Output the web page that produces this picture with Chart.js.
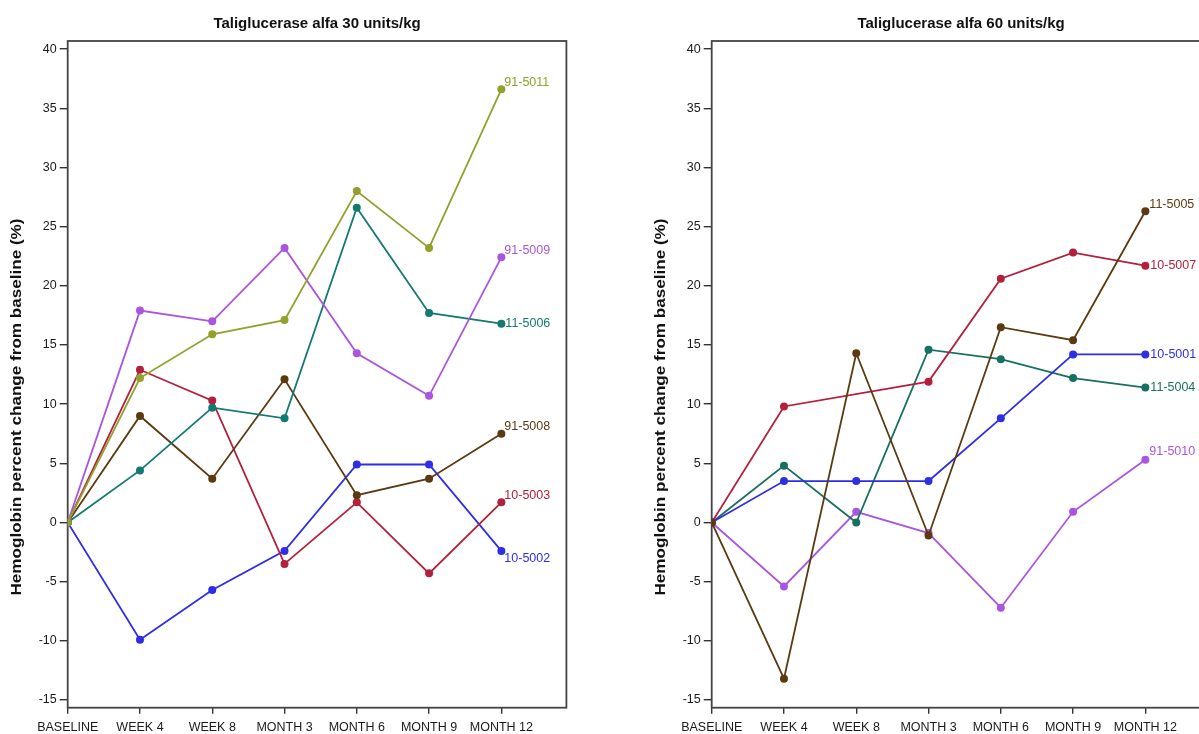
<!DOCTYPE html>
<html>
<head>
<meta charset="utf-8">
<script src="https://cdn.jsdelivr.net/npm/chart.js@4.4.1/dist/chart.umd.min.js"></script>
<style>
  html, body { margin: 0; padding: 0; background: #fff; overflow: hidden; }
  body { width: 1199px; height: 734px; position: relative; }
  canvas { position: absolute; top: 0; }
  #left { left: 0; }
  #right { left: 644px; }
</style>
</head>
<body>
<canvas id="left" width="580" height="734"></canvas>
<canvas id="right" width="580" height="734"></canvas>
<script>
const visits = ["BASELINE", "WEEK 4", "WEEK 8", "MONTH 3", "MONTH 6", "MONTH 9", "MONTH 12"];

// 30 units/kg
const names30 = ["91-5011", "91-5009", "11-5006", "91-5008", "10-5003", "10-5002"];
const p91_5011 = [0, 12.2, 15.9, 17.1, 28.0, 23.2, 36.6];
const p91_5009 = [0, 17.9, 17.0, 23.2, 14.3, 10.7, 22.4];
const p11_5006 = [0, 4.4, 9.7, 8.8, 26.6, 17.7, 16.8];
const p91_5008 = [0, 9.0, 3.7, 12.1, 2.3, 3.7, 7.5];
const p10_5003 = [0, 12.9, 10.3, -3.5, 1.7, -4.3, 1.7];
const p10_5002 = [0, -9.9, -5.7, -2.4, 4.9, 4.9, -2.4];

// 60 units/kg
const names60 = ["11-5005", "10-5007", "10-5001", "11-5004", "91-5010"];
const p11_5005 = [0, -13.2, 14.3, -1.1, 16.5, 15.4, 26.3];
const p10_5007 = [0, 9.8, null, 11.9, 20.6, 22.8, 21.7];
const p10_5001 = [0, 3.5, 3.5, 3.5, 8.8, 14.2, 14.2];
const p11_5004 = [0, 4.8, 0.0, 14.6, 13.8, 12.2, 11.4];
const p91_5010 = [0, -5.4, 0.9, -0.9, -7.2, 0.9, 5.3];

const yTicks = { min: -15.65, max: 40.68, step: 5 };

const FONT = "'Liberation Sans', Arial, sans-serif";

const colors30 = ["#93a02c", "#aa55e0", "#127a70", "#5b3a12", "#b3203c", "#2e2ee6"];
const colors60 = ["#5b3a12", "#b3203c", "#2e2ee6", "#187060", "#aa55e0"];

// label offsets from the last point [dx, dy]
const offsets30 = [[3, -7], [3, -7], [4, 0], [3, -7], [3, -7], [3, 8]];
const offsets60 = [[4, -7], [5, 0], [5, 0], [5, 0], [4, -8]];

const frame = {
  id: "frame",
  beforeDatasetsDraw(chart) {
    const { ctx, chartArea: a } = chart;
    ctx.save();
    ctx.strokeStyle = "#444";
    ctx.lineWidth = 1.8;
    ctx.strokeRect(a.left, a.top, a.right - a.left, a.bottom - a.top);
    ctx.restore();
  }
};

// axis title: the source text is long and thin, so stretch it along its length
const yTitle = {
  id: "yTitle",
  afterDraw(chart) {
    const ctx = chart.ctx;
    const text = "Hemoglobin percent change from baseline (%)";
    ctx.save();
    ctx.font = "bold 14px " + FONT;
    const w = ctx.measureText(text).width;
    ctx.translate(17, 407);
    ctx.rotate(-Math.PI / 2);
    ctx.scale(377 / w, 1);
    ctx.fillStyle = "#111";
    ctx.textAlign = "center";
    ctx.textBaseline = "middle";
    ctx.fillText(text, 0, 0);
    ctx.restore();
  }
};

const endLabels = {
  id: "endLabels",
  afterDatasetsDraw(chart, args, opts) {
    const ctx = chart.ctx;
    ctx.save();
    ctx.font = "12.5px " + FONT;
    ctx.textBaseline = "middle";
    chart.data.datasets.forEach((ds, i) => {
      const meta = chart.getDatasetMeta(i);
      const pt = meta.data[meta.data.length - 1];
      const off = opts.offsets[i] || [4, 0];
      ctx.fillStyle = ds.borderColor;
      ctx.fillText(ds.label, pt.x + off[0], pt.y + off[1]);
    });
    ctx.restore();
  }
};

function makeChart(id, title, names, series, colors, offsets) {
  return new Chart(document.getElementById(id), {
    type: "line",
    data: {
      datasets: series.map((vals, i) => ({
        label: names[i],
        data: vals.map((v, j) => ({ x: j, y: v })),
        borderColor: colors[i],
        backgroundColor: colors[i],
        borderWidth: 1.8,
        pointRadius: 4,
        pointBorderWidth: 0,
        spanGaps: true,
        tension: 0,
      })),
    },
    options: {
      responsive: false,
      animation: false,
      layout: { padding: { left: 0, right: 13.6, top: 0, bottom: 0 } },
      plugins: {
        legend: { display: false },
        tooltip: { enabled: false },
        title: {
          display: true,
          text: title,
          fullSize: false,
          color: "#111",
          font: { family: FONT, size: 15, weight: "bold" },
          padding: { top: 15, bottom: 8 },
        },
        endLabels: { offsets: offsets },
      },
      scales: {
        x: {
          type: "linear",
          min: 0,
          max: 6.9,
          border: { display: false },
          grid: { drawOnChartArea: false, tickLength: 6, color: "#333", lineWidth: 1.4 },
          ticks: {
            stepSize: 1,
            includeBounds: false,
            autoSkip: false,
            maxRotation: 0,
            padding: 6,
            color: "#1a1a1a",
            font: { family: FONT, size: 12.5 },
            callback: (v) => visits[v] ?? "",
          },
          afterFit: (s) => { s.height = 26.3; },
        },
        y: {
          min: yTicks.min,
          max: yTicks.max,
          border: { display: false },
          grid: { drawOnChartArea: false, tickLength: 8, color: "#333", lineWidth: 1.4 },
          ticks: {
            stepSize: yTicks.step,
            includeBounds: false,
            padding: 3,
            color: "#1a1a1a",
            font: { family: FONT, size: 12.5 },
          },
          afterFit: (s) => { s.width = 67.7; },
        },
      },
    },
    plugins: [frame, yTitle, endLabels],
  });
}

makeChart("left", "Taliglucerase alfa 30 units/kg", names30,
  [p91_5011, p91_5009, p11_5006, p91_5008, p10_5003, p10_5002], colors30, offsets30);
makeChart("right", "Taliglucerase alfa 60 units/kg", names60,
  [p11_5005, p10_5007, p10_5001, p11_5004, p91_5010], colors60, offsets60);
</script>
</body>
</html>
